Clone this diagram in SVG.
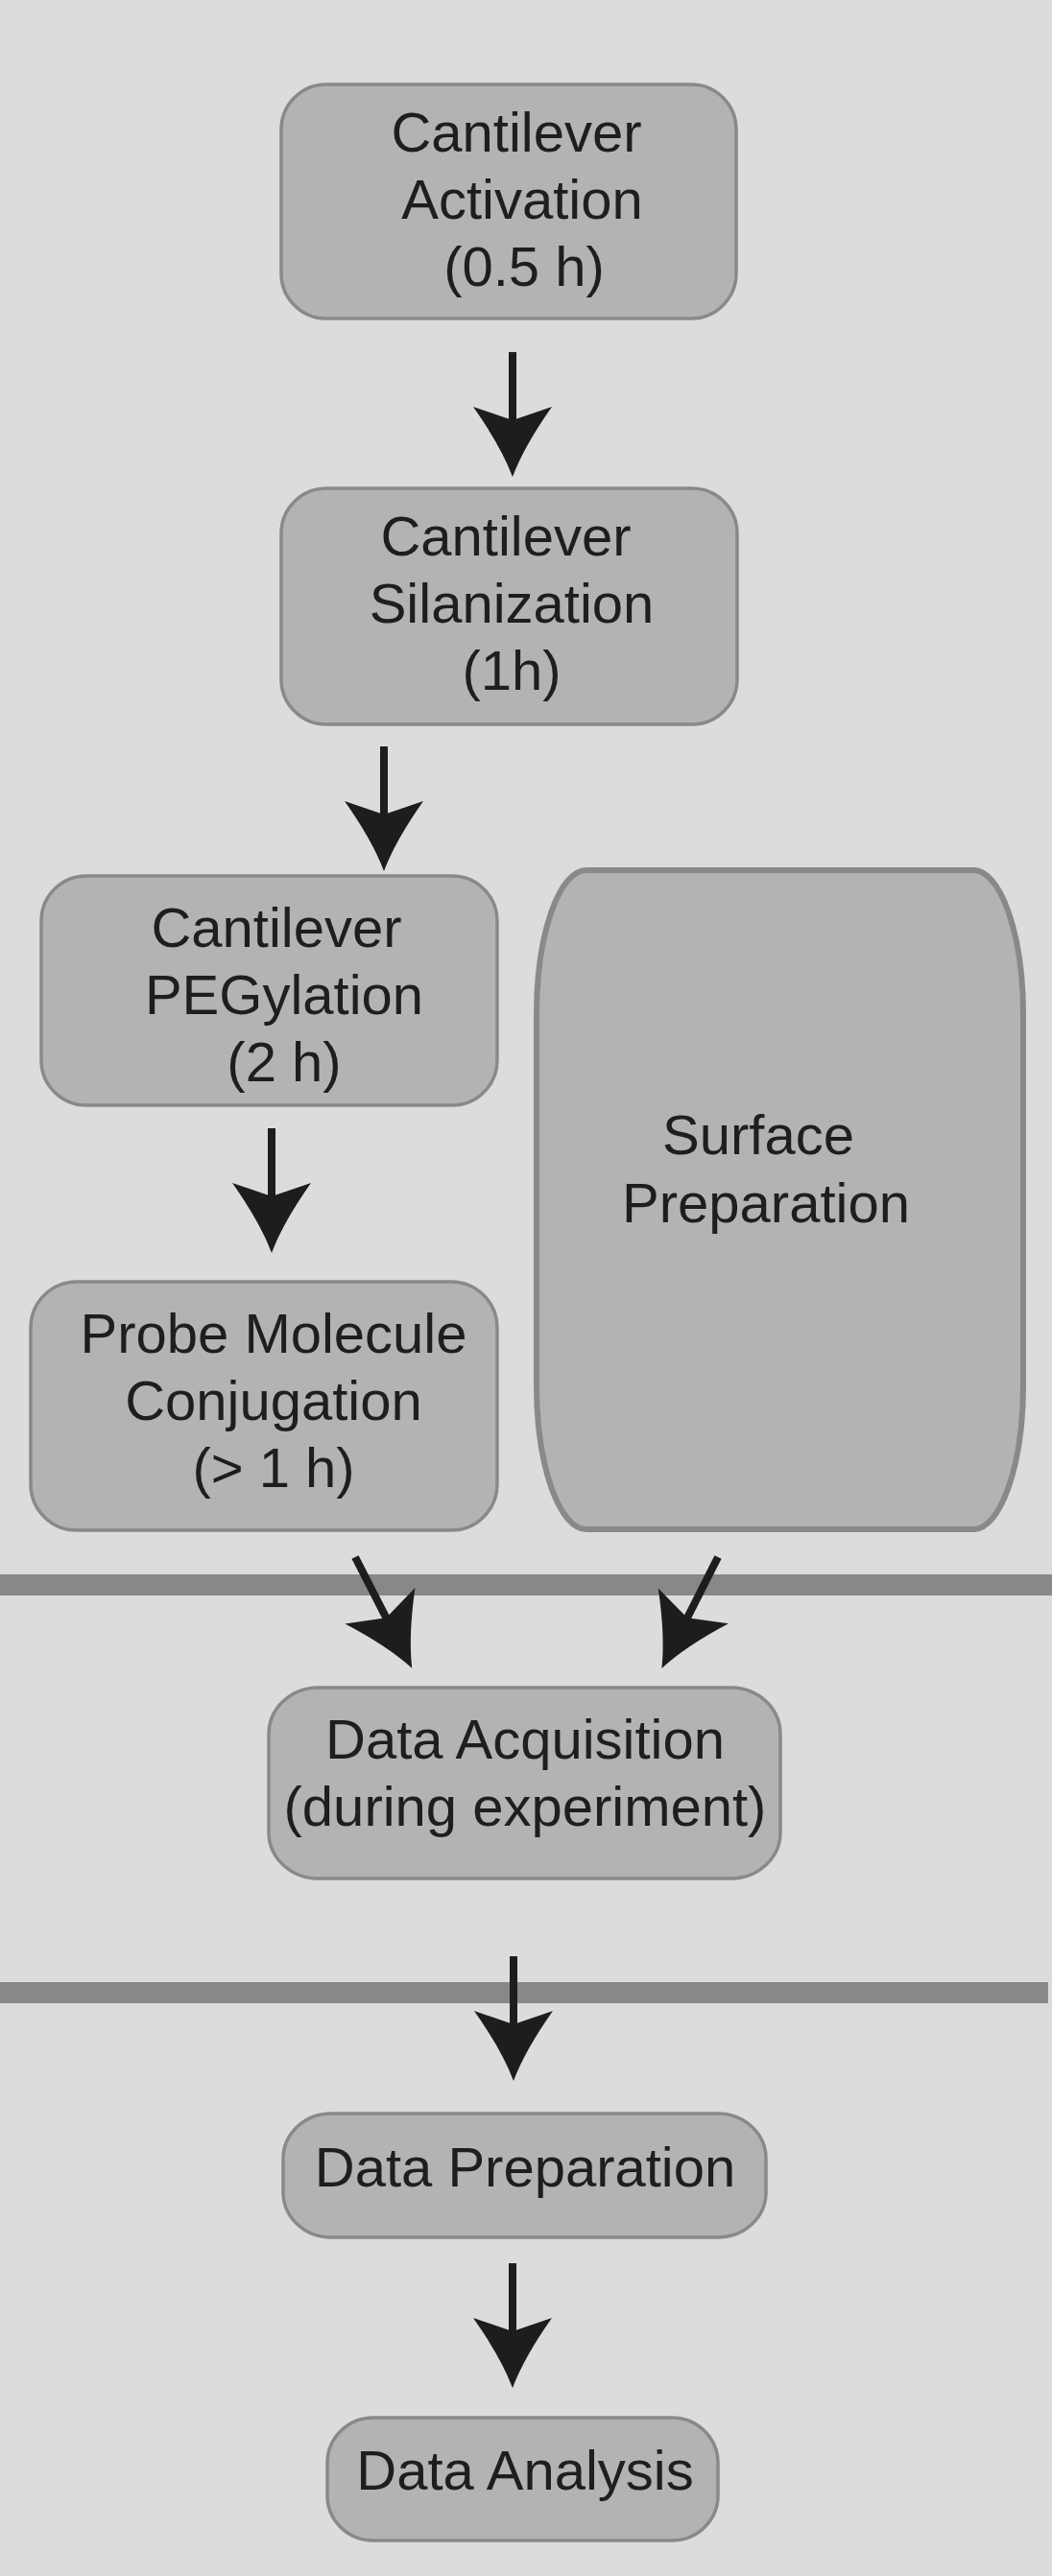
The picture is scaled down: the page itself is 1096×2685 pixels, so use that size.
<svg xmlns="http://www.w3.org/2000/svg" width="1096" height="2685" viewBox="0 0 1096 2685">
<style>
.box{fill:#b3b3b3;stroke:#898989;stroke-width:3.5}
.sp{fill:#b3b3b3;stroke:#898989;stroke-width:6}
.sep{fill:#888888}
.t{font-family:"Liberation Sans",Arial,sans-serif;font-size:58px;fill:#1e1e1e;text-anchor:middle}
.arr{fill:#1d1d1b}
</style>
<defs>
<g id="arrow">
<rect x="-4" y="0" width="8" height="72" class="arr"/>
<path class="arr" d="M0,130 Q-12,98 -41,57 L0,71 L41,57 Q12,98 0,130 Z"/>
</g>
</defs>
<rect x="0" y="0" width="1096" height="2685" fill="#dcdcdc"/>
<g id="separators">
<rect class="sep" x="0" y="1641" width="1096" height="22"/>
<rect class="sep" x="0" y="2066" width="1092" height="22"/>
</g>
<g id="n1">
<rect class="box" x="293" y="88" width="474" height="244" rx="47" ry="47"/>
<text class="t" x="538" y="158">Cantilever</text>
<text class="t" x="544" y="228">Activation</text>
<text class="t" x="546" y="298">(0.5 h)</text>
</g>
<g id="n2">
<rect class="box" x="293" y="509" width="475" height="246" rx="47" ry="47"/>
<text class="t" x="527" y="579">Cantilever</text>
<text class="t" x="533" y="649">Silanization</text>
<text class="t" x="533" y="719">(1h)</text>
</g>
<g id="n3">
<rect class="box" x="43" y="913" width="475" height="239" rx="47" ry="47"/>
<text class="t" x="288" y="987">Cantilever</text>
<text class="t" x="296" y="1057">PEGylation</text>
<text class="t" x="296" y="1127">(2 h)</text>
</g>
<g id="n4">
<rect class="box" x="32" y="1336" width="486" height="259" rx="48" ry="48"/>
<text class="t" x="285" y="1410">Probe Molecule</text>
<text class="t" x="285" y="1480">Conjugation</text>
<text class="t" x="285" y="1550">(&gt; 1 h)</text>
</g>
<g id="n5">
<rect class="sp" x="559" y="907" width="507" height="687" rx="52" ry="150"/>
<text class="t" x="790" y="1203">Surface</text>
<text class="t" x="798" y="1274">Preparation</text>
</g>
<g id="n6">
<rect class="box" x="280" y="1759" width="533" height="199" rx="52" ry="48"/>
<text class="t" x="547" y="1833">Data Acquisition</text>
<text class="t" x="547" y="1903">(during experiment)</text>
</g>
<g id="n7">
<rect class="box" x="295" y="2203" width="503" height="129" rx="50" ry="47"/>
<text class="t" x="547" y="2279">Data Preparation</text>
</g>
<g id="n8">
<rect class="box" x="341" y="2520" width="407" height="128" rx="48" ry="47"/>
<text class="t" x="547" y="2595">Data Analysis</text>
</g>
<g id="connectors">
<use href="#arrow" transform="translate(534,367)"/>
<use href="#arrow" transform="translate(400,778)"/>
<use href="#arrow" transform="translate(283,1176)"/>
<use href="#arrow" transform="translate(370,1623) rotate(-27.1)"/>
<use href="#arrow" transform="translate(748,1623) rotate(26.8)"/>
<use href="#arrow" transform="translate(535,2039)"/>
<use href="#arrow" transform="translate(534,2359)"/>
</g>
</svg>
